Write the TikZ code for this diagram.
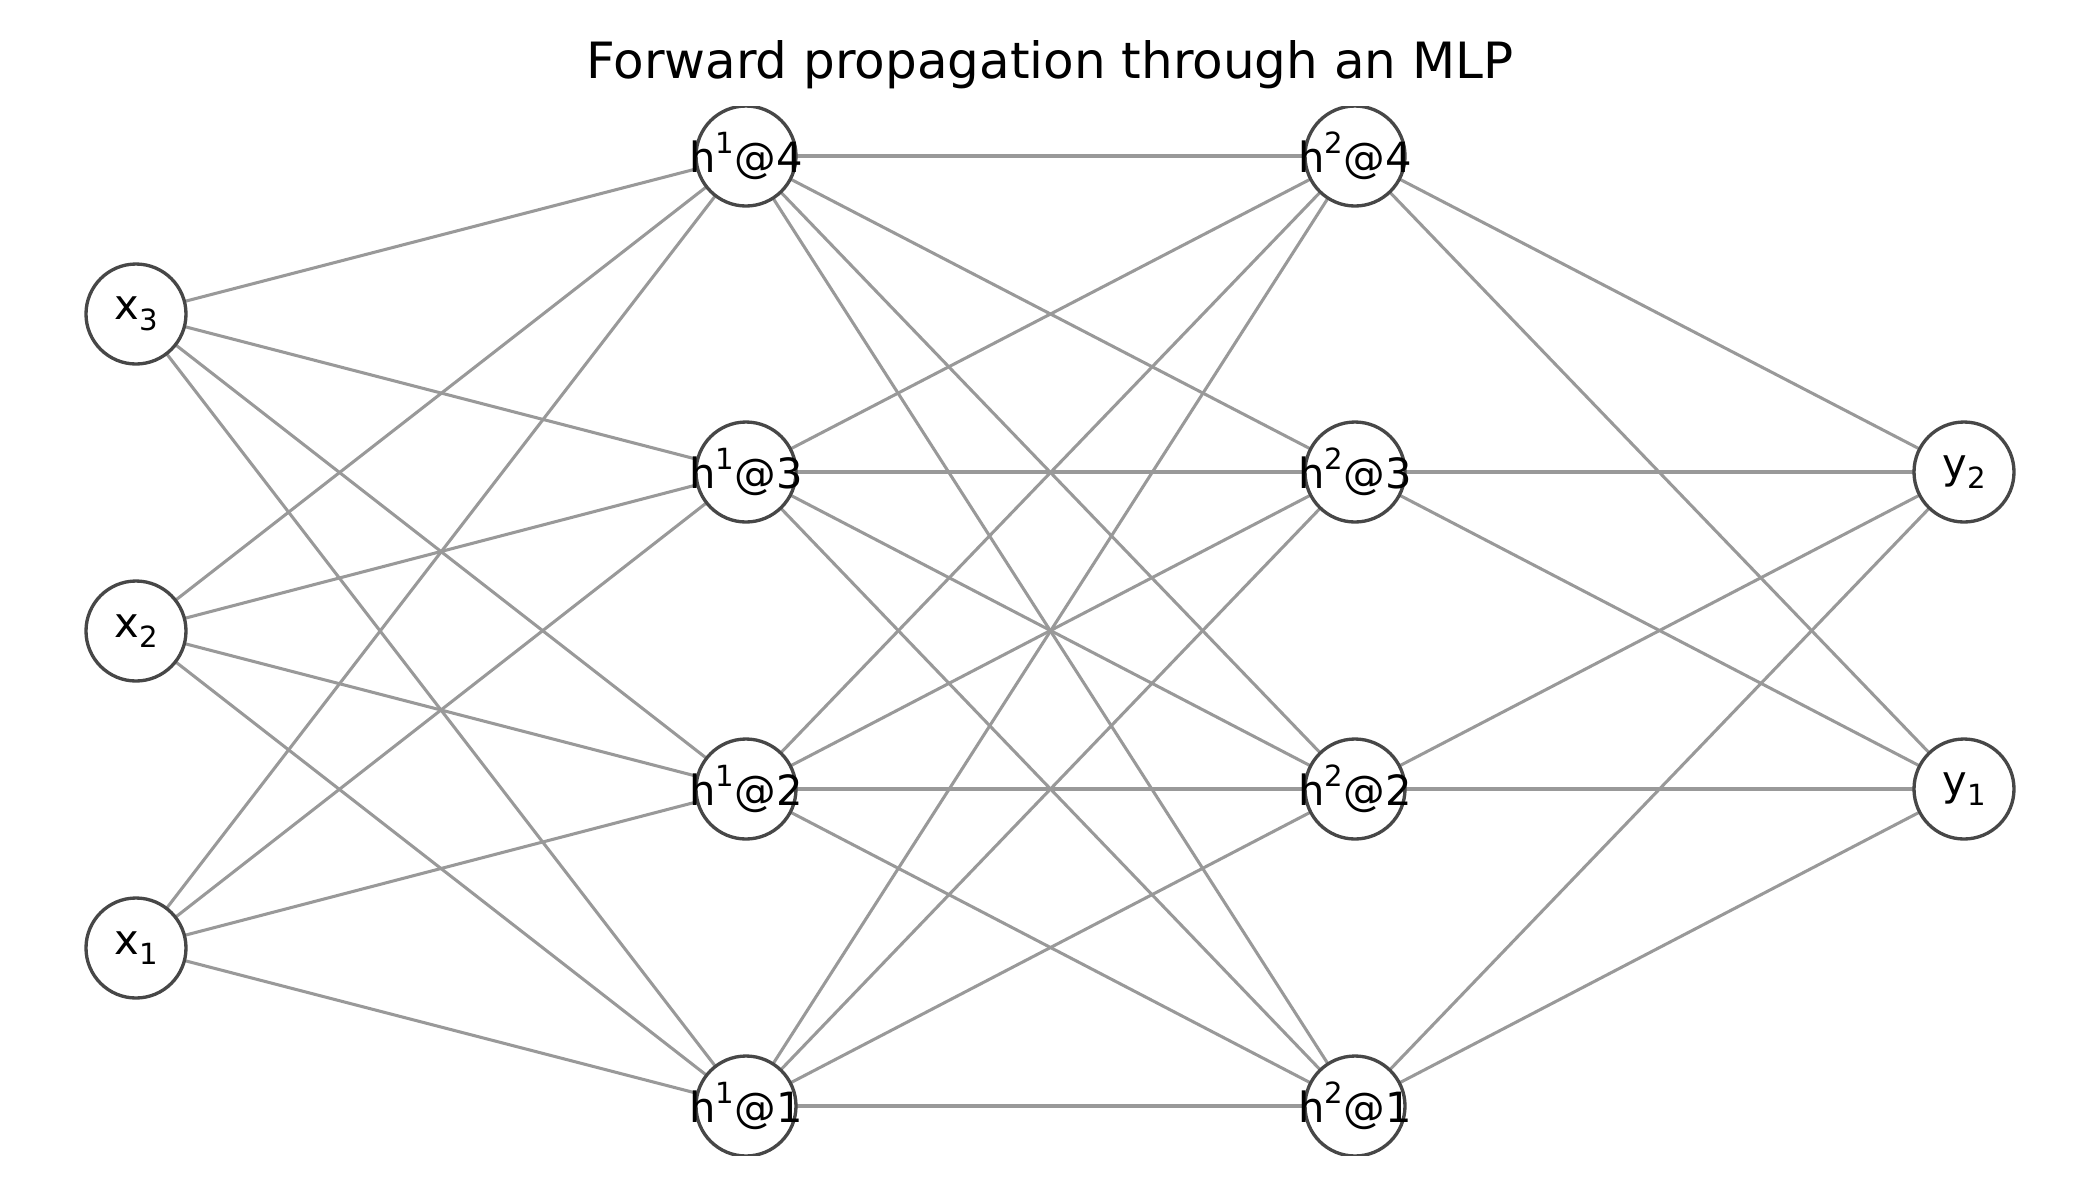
\documentclass[tikz,border=0pt]{standalone}
\usepackage{fontspec}
\setmainfont{DejaVu Sans}
\usetikzlibrary{backgrounds}
\newcommand{\mysub}[1]{\raisebox{-0.25em}{\fontsize{10.5pt}{12pt}\selectfont #1}}
\newcommand{\mysup}[1]{\raisebox{0.45em}{\fontsize{10.5pt}{12pt}\selectfont #1}}
\newcommand{\nlabel}[1]{\makebox[0pt]{#1}}
\tikzset{
  neuron/.style={circle, draw=black!72, line width=1.2pt, fill=white, minimum size=36pt, inner sep=0pt,
    font=\fontsize{15pt}{18pt}\selectfont},
  conn/.style={draw=black!40, line width=1.1pt},
  titletext/.style={font=\fontsize{18pt}{22pt}\selectfont, text=black}
}
\begin{document}
\begin{tikzpicture}[x=0.36pt,y=-0.36pt]
\useasboundingbox (0,0) rectangle (2100,1200);
\node[titletext] (title) at (1050,65) {Forward propagation through an MLP};
\begin{scope}
\clip (0,106) rectangle (2100,1155);
% input layer
\node[neuron] (x3) at (136,314) {\nlabel{x\mysub{3}}};
\node[neuron] (x2) at (136,631) {\nlabel{x\mysub{2}}};
\node[neuron] (x1) at (136,948) {\nlabel{x\mysub{1}}};
% hidden layer 1
\node[neuron] (a4) at (746,156) {\nlabel{h\mysup{1}@4}};
\node[neuron] (a3) at (746,472) {\nlabel{h\mysup{1}@3}};
\node[neuron] (a2) at (746,789) {\nlabel{h\mysup{1}@2}};
\node[neuron] (a1) at (746,1106) {\nlabel{h\mysup{1}@1}};
% hidden layer 2
\node[neuron] (b4) at (1355,156) {\nlabel{h\mysup{2}@4}};
\node[neuron] (b3) at (1355,472) {\nlabel{h\mysup{2}@3}};
\node[neuron] (b2) at (1355,789) {\nlabel{h\mysup{2}@2}};
\node[neuron] (b1) at (1355,1106) {\nlabel{h\mysup{2}@1}};
% output layer
\node[neuron] (y2) at (1964,472) {\nlabel{y\mysub{2}}};
\node[neuron] (y1) at (1964,789) {\nlabel{y\mysub{1}}};
\begin{scope}[on background layer]
\foreach \i in {1,2,3}{\foreach \j in {1,2,3,4}{\draw[conn] (x\i.center) -- (a\j.center);}}
\foreach \i in {1,2,3,4}{\foreach \j in {1,2,3,4}{\draw[conn] (a\i.center) -- (b\j.center);}}
\foreach \i in {1,2,3,4}{\foreach \j in {1,2}{\draw[conn] (b\i.center) -- (y\j.center);}}
\end{scope}
\end{scope}
\end{tikzpicture}
\end{document}
